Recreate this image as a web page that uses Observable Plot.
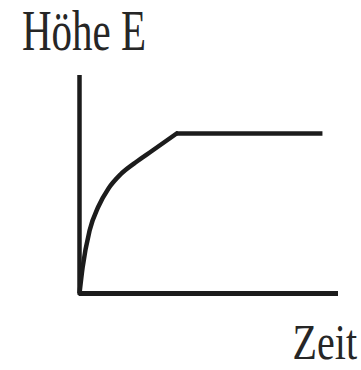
<!DOCTYPE html>
<html>
<head>
<meta charset="utf-8">
<script src="https://cdn.jsdelivr.net/npm/d3@7"></script>
<script src="https://cdn.jsdelivr.net/npm/@observablehq/plot@0.6"></script>
<style>
  html, body { margin: 0; padding: 0; background: #fff; }
  #chart svg { display: block; }
</style>
</head>
<body>
<div id="chart"></div>
<script>
// Data (time vs. height of E, arbitrary units 0–10)
// rising part
const zeit = [0, 0.12, 0.39, 0.73, 1.12, 1.58, 2.16, 2.82, 3.75];
const hoehe = [0, 1.19, 2.89, 3.99, 4.82, 5.46, 6.01, 6.56, 7.34];
// plateau
const zeitPlateau = [3.75, 9.38];
const hoehePlateau = [7.34, 7.34];
const yLabel = "Höhe E";
const xLabel = "Zeit";

const rise = zeit.map((t, i) => ({t, h: hoehe[i]}));
const plateau = zeitPlateau.map((t, i) => ({t, h: hoehePlateau[i]}));
const ink = "#1c1c1c";

const plot = Plot.plot({
  width: 361,
  height: 370,
  marginTop: 75,
  marginBottom: 77,
  marginLeft: 79,
  marginRight: 23,
  x: {domain: [0, 10], axis: null},
  y: {domain: [0, 10], axis: null},
  style: {background: "#fff"},
  marks: [
    Plot.ruleX([0], {stroke: ink, strokeWidth: 4.5}),
    Plot.ruleY([0], {stroke: ink, strokeWidth: 5}),
    Plot.line(rise, {x: "t", y: "h", stroke: ink, strokeWidth: 4.5, strokeLinejoin: "round", strokeLinecap: "round", curve: "monotone-x"}),
    Plot.line(plateau, {x: "t", y: "h", stroke: ink, strokeWidth: 4.5, strokeLinecap: "butt"})
  ]
});

const svg = d3.select(plot);
svg.append("text")
  .attr("transform", "translate(22,50) scale(1,1.37)")
  .attr("text-anchor", "start")
  .attr("font-family", "'Liberation Serif', 'Times New Roman', serif")
  .attr("font-size", 41)
  .attr("fill", "#262626")
  .text(yLabel);
svg.append("text")
  .attr("transform", "translate(357,359) scale(1,1.28)")
  .attr("text-anchor", "end")
  .attr("font-family", "'Liberation Serif', 'Times New Roman', serif")
  .attr("font-size", 40)
  .attr("fill", "#262626")
  .text(xLabel);

document.getElementById("chart").appendChild(plot);
</script>
</body>
</html>
